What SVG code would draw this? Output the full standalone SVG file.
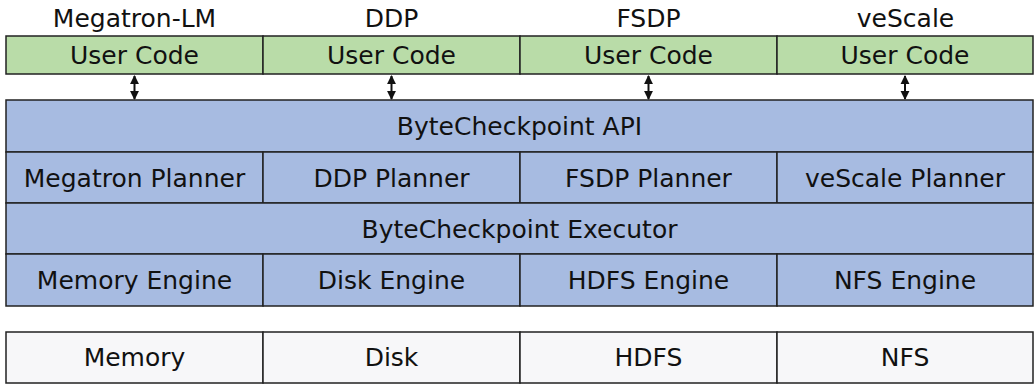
<svg xmlns="http://www.w3.org/2000/svg" width="1034" height="384" viewBox="0 0 1034 384">
<style>
text{font-family:"DejaVu Sans","Liberation Sans",sans-serif;font-size:25px;fill:#111;text-anchor:middle}
.g{fill:#b9dca8;stroke:#222;stroke-width:1.5}
.b{fill:#a7bbe1;stroke:#222;stroke-width:1.5}
.s{fill:#f7f7f9;stroke:#222;stroke-width:1.5}
.c{stroke:#111;stroke-width:2;fill:none}
</style>
<defs>
<marker id="ah" viewBox="0 0 10 10" refX="9" refY="5" markerWidth="9" markerHeight="10" markerUnits="userSpaceOnUse" orient="auto-start-reverse"><path d="M0,0L10,5L0,10z" fill="#111"/></marker>
</defs>
<g id="titles">
<text x="134.5" y="27">Megatron-LM</text>
<text x="391.5" y="27">DDP</text>
<text x="648.5" y="27">FSDP</text>
<text x="905.5" y="27">veScale</text>
</g>
<g id="user-code">
<rect class="g" x="6" y="36" width="257" height="38"/><text x="134.5" y="64">User Code</text>
<rect class="g" x="263" y="36" width="257" height="38"/><text x="391.5" y="64">User Code</text>
<rect class="g" x="520" y="36" width="257" height="38"/><text x="648.5" y="64">User Code</text>
<rect class="g" x="777" y="36" width="256" height="38"/><text x="905" y="64">User Code</text>
</g>
<g id="connectors">
<line class="c" x1="134.5" y1="76" x2="134.5" y2="99" marker-start="url(#ah)" marker-end="url(#ah)"/>
<line class="c" x1="391.5" y1="76" x2="391.5" y2="99" marker-start="url(#ah)" marker-end="url(#ah)"/>
<line class="c" x1="648.5" y1="76" x2="648.5" y2="99" marker-start="url(#ah)" marker-end="url(#ah)"/>
<line class="c" x1="905" y1="76" x2="905" y2="99" marker-start="url(#ah)" marker-end="url(#ah)"/>
</g>
<g id="api">
<rect class="b" x="6" y="100" width="1027" height="52"/><text x="519.5" y="135">ByteCheckpoint API</text>
</g>
<g id="planners">
<rect class="b" x="6" y="152" width="257" height="51"/><text x="134.5" y="187">Megatron Planner</text>
<rect class="b" x="263" y="152" width="257" height="51"/><text x="391.5" y="187">DDP Planner</text>
<rect class="b" x="520" y="152" width="257" height="51"/><text x="648.5" y="187">FSDP Planner</text>
<rect class="b" x="777" y="152" width="256" height="51"/><text x="905" y="187">veScale Planner</text>
</g>
<g id="executor">
<rect class="b" x="6" y="203" width="1027" height="51"/><text x="519.5" y="238">ByteCheckpoint Executor</text>
</g>
<g id="engines">
<rect class="b" x="6" y="254" width="257" height="52"/><text x="134.5" y="289">Memory Engine</text>
<rect class="b" x="263" y="254" width="257" height="52"/><text x="391.5" y="289">Disk Engine</text>
<rect class="b" x="520" y="254" width="257" height="52"/><text x="648.5" y="289">HDFS Engine</text>
<rect class="b" x="777" y="254" width="256" height="52"/><text x="905" y="289">NFS Engine</text>
</g>
<g id="storage">
<rect class="s" x="6" y="332" width="257" height="51"/><text x="134.5" y="366">Memory</text>
<rect class="s" x="263" y="332" width="257" height="51"/><text x="391.5" y="366">Disk</text>
<rect class="s" x="520" y="332" width="257" height="51"/><text x="648.5" y="366">HDFS</text>
<rect class="s" x="777" y="332" width="256" height="51"/><text x="905" y="366">NFS</text>
</g>
</svg>
